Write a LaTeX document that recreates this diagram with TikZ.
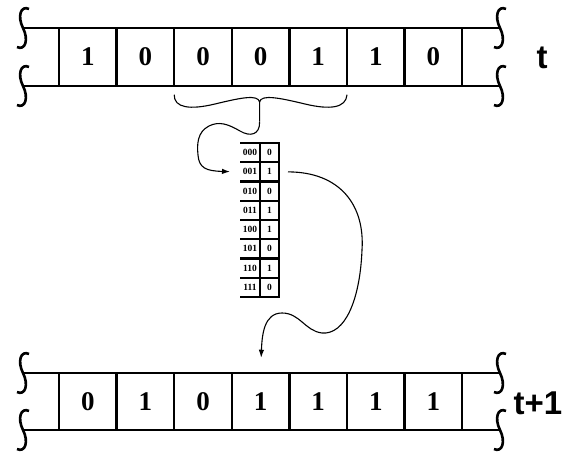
\documentclass[tikz,border=0pt]{standalone}
\usepackage{fontspec}
\setmainfont{Liberation Serif}
\newfontfamily\labelfont{Liberation Sans}
\usetikzlibrary{arrows.meta,positioning,calc}

\tikzset{
  tapecut/.pic={
    \draw[line width=2.6pt] (6,-19) .. controls (-2,-23) and (-6,-12) .. (0,0)
      .. controls (6,12) and (2,23) .. (-6,19);
  }
}

\begin{document}
\begin{tikzpicture}[
  x=1pt, y=-1pt,
  cell/.style={draw, line width=2.4pt, minimum width=57.6pt, minimum height=57.5pt,
               inner sep=0pt, outer sep=0pt, font=\fontsize{27}{27}\selectfont\bfseries},
  tape/.style={line width=2.8pt},
  keycell/.style={minimum width=20pt, minimum height=19.25pt, inner sep=0pt, outer sep=0pt,
                  font=\fontsize{9.5}{9.5}\selectfont\bfseries},
  valcell/.style={draw, line width=2.4pt, minimum width=19pt, minimum height=19.25pt,
                  inner sep=0pt, outer sep=0pt, font=\fontsize{9.5}{9.5}\selectfont\bfseries},
  tabline/.style={line width=2.4pt},
  link/.style={line width=1.1pt, -{Latex[length=8pt,width=5.5pt]}},
  lbl/.style={font=\labelfont\fontsize{33}{33}\selectfont\bfseries},
]
  \useasboundingbox (0,0) rectangle (566,452);

  %% cinta en el instante t
  \node[cell] (a1) at (87.8,57) {1};
  \node[cell, right=0pt of a1] (a2) {0};
  \node[cell, right=0pt of a2] (a3) {0};
  \node[cell, right=0pt of a3] (a4) {0};
  \node[cell, right=0pt of a4] (a5) {1};
  \node[cell, right=0pt of a5] (a6) {1};
  \node[cell, right=0pt of a6] (a7) {0};

  \coordinate (atl) at (23,28);   \coordinate (atr) at (500,28);
  \coordinate (abl) at (23,86);   \coordinate (abr) at (500,86);
  \draw[tape] (atl) -- (atr);
  \draw[tape] (abl) -- (abr);
  \pic at (atl) {tapecut}; \pic at (atr) {tapecut};
  \pic at (abl) {tapecut}; \pic at (abr) {tapecut};
  \node[lbl] (lt) at (542,58) {t};

  %% cinta en el instante t+1
  \node[cell] (b1) at (87.8,401.5) {0};
  \node[cell, right=0pt of b1] (b2) {1};
  \node[cell, right=0pt of b2] (b3) {0};
  \node[cell, right=0pt of b3] (b4) {1};
  \node[cell, right=0pt of b4] (b5) {1};
  \node[cell, right=0pt of b5] (b6) {1};
  \node[cell, right=0pt of b6] (b7) {1};

  \coordinate (btl) at (23,373);  \coordinate (btr) at (500,373);
  \coordinate (bbl) at (23,430);  \coordinate (bbr) at (500,430);
  \draw[tape] (btl) -- (btr);
  \draw[tape] (bbl) -- (bbr);
  \pic at (btl) {tapecut}; \pic at (btr) {tapecut};
  \pic at (bbl) {tapecut}; \pic at (bbr) {tapecut};
  \node[lbl] (lt1) at (538,403) {t+1};

  %% tabla de la regla
  \node[keycell] (k1) at (250,152.6) {000};
  \node[keycell, below=0pt of k1] (k2) {001};
  \node[keycell, below=0pt of k2] (k3) {010};
  \node[keycell, below=0pt of k3] (k4) {011};
  \node[keycell, below=0pt of k4] (k5) {100};
  \node[keycell, below=0pt of k5] (k6) {101};
  \node[keycell, below=0pt of k6] (k7) {110};
  \node[keycell, below=0pt of k7] (k8) {111};
  \node[valcell, right=0pt of k1] (v1) {0};
  \node[valcell, right=0pt of k2] (v2) {1};
  \node[valcell, right=0pt of k3] (v3) {0};
  \node[valcell, right=0pt of k4] (v4) {1};
  \node[valcell, right=0pt of k5] (v5) {1};
  \node[valcell, right=0pt of k6] (v6) {0};
  \node[valcell, right=0pt of k7] (v7) {1};
  \node[valcell, right=0pt of k8] (v8) {0};
  \foreach \i in {1,...,8}
    \draw[tabline] (k\i.north west) -- (k\i.north east);
  \draw[tabline] (k8.south west) -- (k8.south east);

  %% vecindad (llave) y flechas
  \coordinate (tip) at ($(a4.south)+(-1,36)$);
  \draw[line width=1.1pt] ($(a3.south west)+(0,9)$)
      .. controls (174,108) and (190,110) .. (215,104)
      .. controls (240,98) and (258,94) .. (259.6,102)
      .. controls (261,94) and (280,98) .. (305,104)
      .. controls (330,110) and (346,108) .. ($(a5.south east)+(0,9)$);
  \draw[line width=1.1pt] (259.6,102) -- (tip);
  \draw[link, shorten >=10pt] (tip) .. controls (260,135) and (250,137) .. (240,131)
      .. controls (228,124) and (219,121) .. (209,126)
      .. controls (197,132) and (197,145) .. (198,155)
      .. controls (199,168) and (206,171) .. (k2.west);
  \draw[link, shorten <=9pt, shorten >=15pt] (v2.east)
      .. controls (340,172) and (365,205) .. (362,250)
      .. controls (360,300) and (345,335) .. (322,333)
      .. controls (305,331) and (300,313) .. (282,313)
      .. controls (264,313) and (262,335) .. (b4.north);

\end{tikzpicture}
\end{document}
